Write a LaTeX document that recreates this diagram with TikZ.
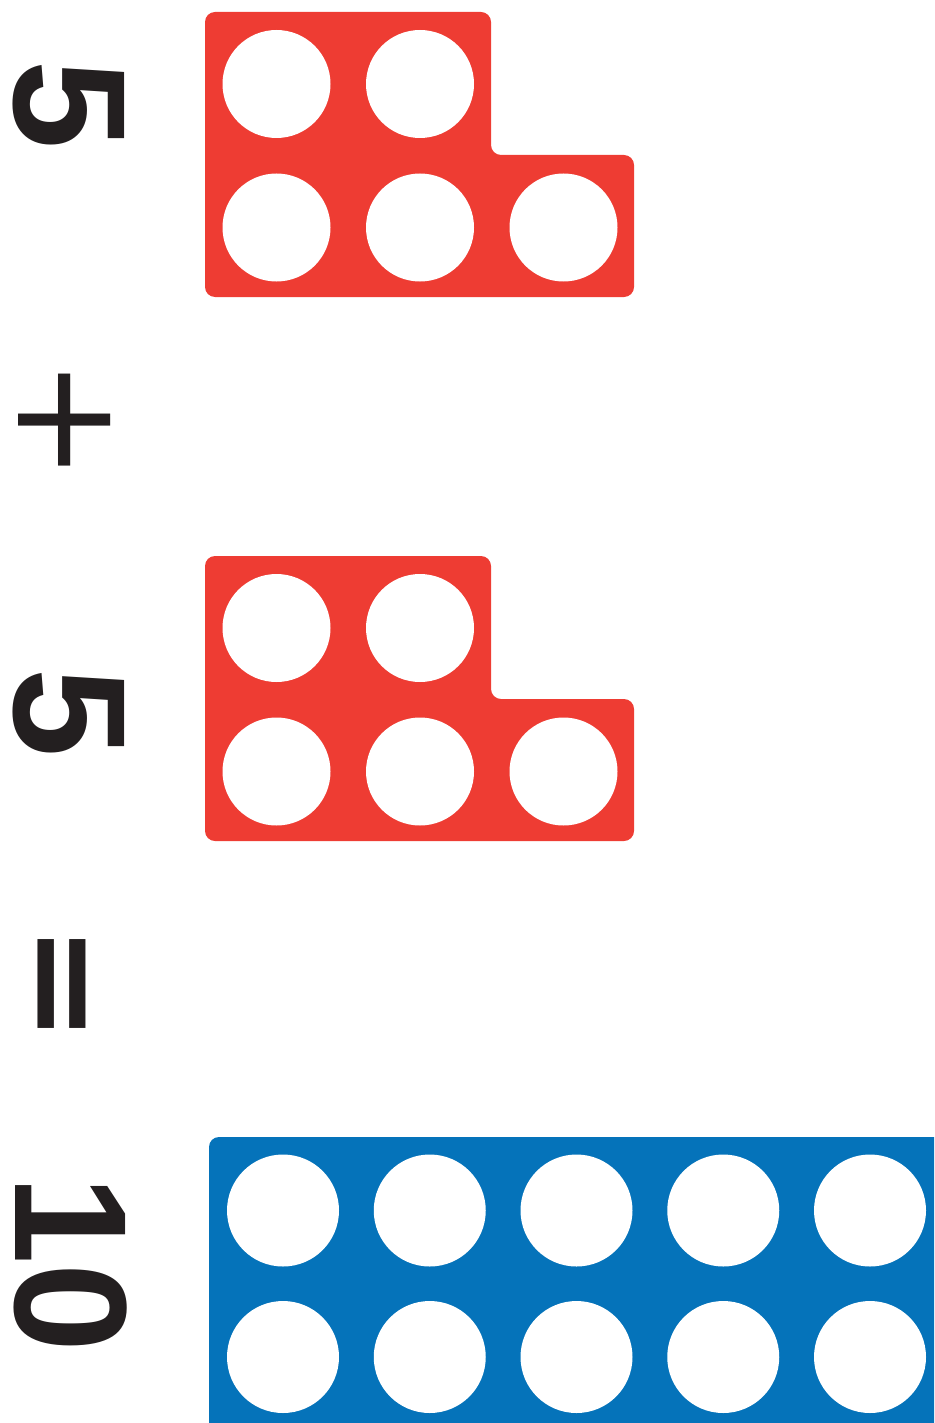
\documentclass[tikz,border=0pt]{standalone}
\usepackage{fontspec}
\setmainfont{Liberation Sans}
\newfontfamily\opfont{DejaVu Sans}
\usepackage{xcolor}
\definecolor{numred}{HTML}{EE3C33}
\definecolor{numblue}{HTML}{0573BA}
\definecolor{numink}{HTML}{231F20}

\begin{document}
\begin{tikzpicture}[x=1pt, y=-1pt,
    redhole/.style={circle, fill=white, minimum size=108pt, inner sep=0pt},
    bluehole/.style={circle, fill=white, minimum size=112pt, inner sep=0pt},
    sign/.style={text=numink, inner sep=0pt, rotate=-90,
        font=\bfseries\fontsize{160}{160}\selectfont},
    opsign/.style={sign, font=\opfont\fontsize{147}{147}\selectfont}]
    \useasboundingbox (0,0) rectangle (934,1423);
    % the two five pieces
    \foreach \dy/\k in {0/a, 544/b} {
        \fill[numred, rounded corners=10pt] (205,12+\dy) -- (491,12+\dy)
            -- (491,155+\dy) -- (634,155+\dy) -- (634,297+\dy)
            -- (205,297+\dy) -- cycle;
        \node[redhole] (\k11) at (276.5,84+\dy) {};
        \node[redhole] (\k12) at (420,84+\dy) {};
        \node[redhole] (\k21) at (276.5,227.5+\dy) {};
        \node[redhole] (\k22) at (420,227.5+\dy) {};
        \node[redhole] (\k23) at (563.5,227.5+\dy) {};
    }
    % the ten piece, running off the page
    \fill[numblue] (209,1423) [rounded corners=10pt] -- (209,1137)
        [sharp corners] -- (934,1137) -- (934,1423) -- cycle;
    \foreach \i in {0,...,4} {
        \node[bluehole] (t1\i) at (283+146.75*\i,1210.5) {};
        \node[bluehole] (t2\i) at (283+146.75*\i,1357) {};
    }
    % the sum
    \node[sign] (fiveA) at (68.5,104.5) {5};
    \node[opsign] (plus) at (64.5,420) {+};
    \node[sign] (fiveB) at (68.5,712.5) {5};
    \node[opsign, font=\opfont\bfseries\fontsize{142}{142}\selectfont] (equals) at (52,984) {=};
    \node[sign] (ten) at (70.5,1264) {10};
\end{tikzpicture}
\end{document}
